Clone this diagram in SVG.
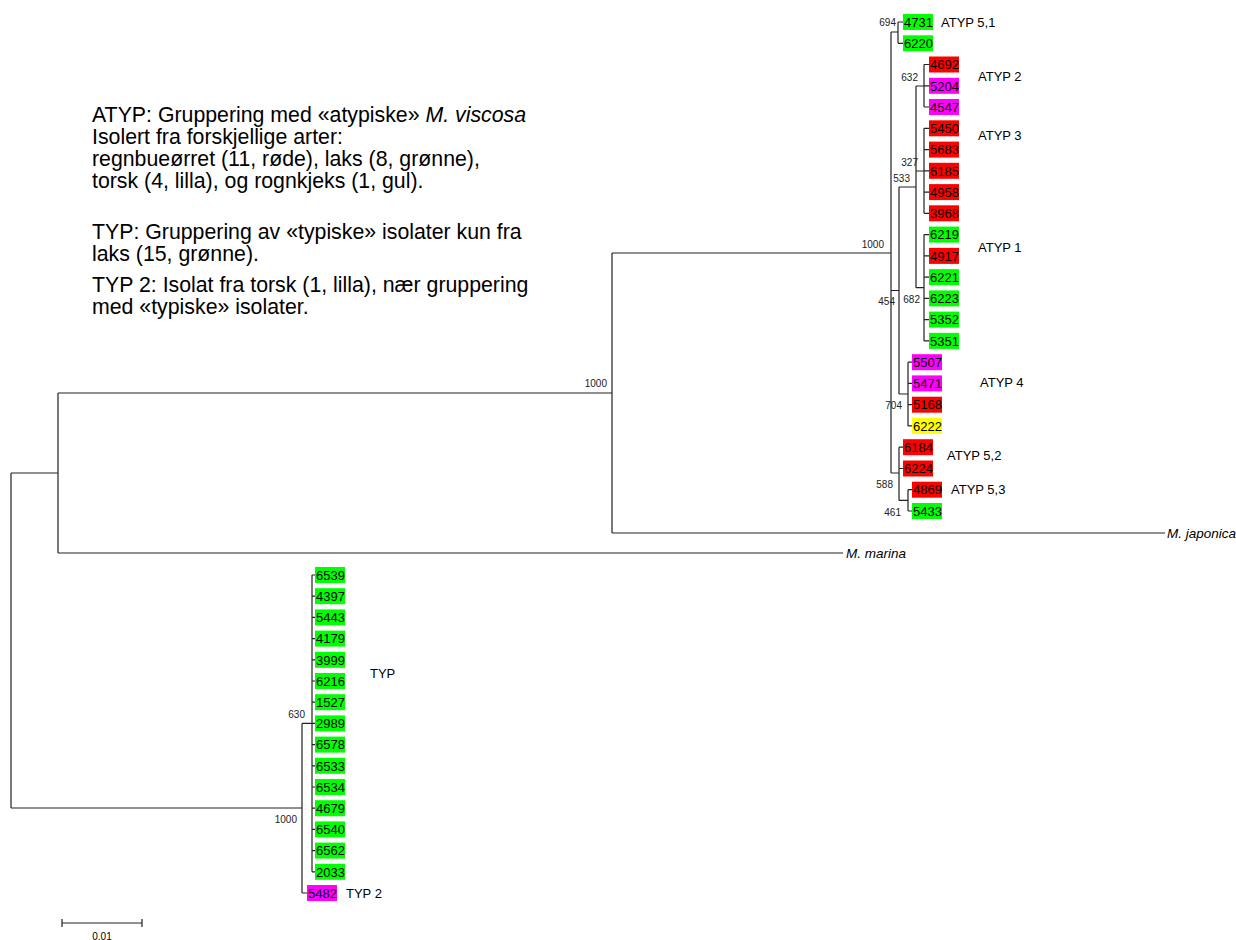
<svg xmlns="http://www.w3.org/2000/svg" width="1236" height="940" viewBox="0 0 1236 940">
<style>
.br{stroke:#222;stroke-width:1.2;fill:none}
text{font-family:"Liberation Sans",Arial,sans-serif;fill:#000}
.tip text{font-size:13px}
.bs{font-size:10px;fill:#222;text-anchor:end}
.lbl{font-size:13px}
.note{font-size:21.3px}
.sp{font-size:13.5px;font-style:italic}
.g{fill:#00ff00}.r{fill:#ff0000}.m{fill:#ff00ff}.y{fill:#ffff00}
</style>
<rect width="1236" height="940" fill="#fff"/>
<g id="connectors" class="br">
<path d="M11 473V808M11 473H58M11 808H302
M58 393V553M58 393H612M58 553H843
M612 253V533M612 253H891M612 533H1165
M891 32V473M891 32H898M898 22V43.3M898 22H903M898 43.3H903
M891 290.5H899M899 187V394M899 187H916M916 86V287.7
M916 86H924M924 64.5V107M924 64.5H929M924 85.8H929M924 107H929
M916 171H924M924 128.3V213.3M924 128.3H929M924 149.6H929M924 170.8H929M924 192.1H929M924 213.3H929
M916 287.7H924M924 234.6V340.9M924 234.6H929M924 255.9H929M924 277.1H929M924 298.4H929M924 319.6H929M924 340.9H929
M899 394H908M908 362.2V425.9M908 362.2H912M908 383.4H912M908 404.7H912M908 425.9H912
M891 473H899M899 447.2V500.4M899 447.2H903M899 468.5H903M899 500.4H908M908 489.7V511M908 489.7H912M908 511H912
M302 723.4V893M302 723.4H312M312 575V871.8M302 893H307
M312 575H315M312 596.2H315M312 617.4H315M312 638.6H315M312 659.8H315M312 681H315M312 702.2H315M312 723.4H315M312 744.6H315M312 765.8H315M312 787H315M312 808.2H315M312 829.4H315M312 850.6H315M312 871.8H315"/>
</g>
<g id="scalebar">
<path class="br" d="M62 923H142M62 919V927M142 919V927"/>
<text x="102" y="939.5" font-size="10" text-anchor="middle" fill="#222">0.01</text>
</g>
<g id="tips" class="tip">
<g id="t4731"><rect class="g" x="903" y="14" width="30" height="16"/><text x="904" y="26.7">4731</text></g>
<g id="t6220"><rect class="g" x="903" y="35.3" width="30" height="16"/><text x="904" y="48">6220</text></g>
<g id="t4692"><rect class="r" x="929" y="56.5" width="30" height="16"/><text x="930" y="69.2">4692</text></g>
<g id="t5204"><rect class="m" x="929" y="77.8" width="30" height="16"/><text x="930" y="90.5">5204</text></g>
<g id="t4547"><rect class="m" x="929" y="99" width="30" height="16"/><text x="930" y="111.7">4547</text></g>
<g id="t5450"><rect class="r" x="929" y="120.3" width="30" height="16"/><text x="930" y="133">5450</text></g>
<g id="t5683"><rect class="r" x="929" y="141.6" width="30" height="16"/><text x="930" y="154.3">5683</text></g>
<g id="t6185"><rect class="r" x="929" y="162.8" width="30" height="16"/><text x="930" y="175.5">6185</text></g>
<g id="t4958"><rect class="r" x="929" y="184.1" width="30" height="16"/><text x="930" y="196.8">4958</text></g>
<g id="t3968"><rect class="r" x="929" y="205.3" width="30" height="16"/><text x="930" y="218">3968</text></g>
<g id="t6219"><rect class="g" x="929" y="226.6" width="30" height="16"/><text x="930" y="239.3">6219</text></g>
<g id="t4917"><rect class="r" x="929" y="247.9" width="30" height="16"/><text x="930" y="260.6">4917</text></g>
<g id="t6221"><rect class="g" x="929" y="269.1" width="30" height="16"/><text x="930" y="281.8">6221</text></g>
<g id="t6223"><rect class="g" x="929" y="290.4" width="30" height="16"/><text x="930" y="303.1">6223</text></g>
<g id="t5352"><rect class="g" x="929" y="311.6" width="30" height="16"/><text x="930" y="324.3">5352</text></g>
<g id="t5351"><rect class="g" x="929" y="332.9" width="30" height="16"/><text x="930" y="345.6">5351</text></g>
<g id="t5507"><rect class="m" x="912" y="354.2" width="30" height="16"/><text x="913" y="366.9">5507</text></g>
<g id="t5471"><rect class="m" x="912" y="375.4" width="30" height="16"/><text x="913" y="388.1">5471</text></g>
<g id="t5168"><rect class="r" x="912" y="396.7" width="30" height="16"/><text x="913" y="409.4">5168</text></g>
<g id="t6222"><rect class="y" x="912" y="417.9" width="30" height="16"/><text x="913" y="430.6">6222</text></g>
<g id="t6184"><rect class="r" x="903" y="439.2" width="30" height="16"/><text x="904" y="451.9">6184</text></g>
<g id="t6224"><rect class="r" x="903" y="460.5" width="30" height="16"/><text x="904" y="473.2">6224</text></g>
<g id="t4869"><rect class="r" x="912" y="481.7" width="30" height="16"/><text x="913" y="494.4">4869</text></g>
<g id="t5433"><rect class="g" x="912" y="503" width="30" height="16"/><text x="913" y="515.7">5433</text></g>
<g id="t6539"><rect class="g" x="315" y="567" width="30" height="16"/><text x="316" y="579.7">6539</text></g>
<g id="t4397"><rect class="g" x="315" y="588.2" width="30" height="16"/><text x="316" y="600.9">4397</text></g>
<g id="t5443"><rect class="g" x="315" y="609.4" width="30" height="16"/><text x="316" y="622.1">5443</text></g>
<g id="t4179"><rect class="g" x="315" y="630.6" width="30" height="16"/><text x="316" y="643.3">4179</text></g>
<g id="t3999"><rect class="g" x="315" y="651.8" width="30" height="16"/><text x="316" y="664.5">3999</text></g>
<g id="t6216"><rect class="g" x="315" y="673" width="30" height="16"/><text x="316" y="685.7">6216</text></g>
<g id="t1527"><rect class="g" x="315" y="694.2" width="30" height="16"/><text x="316" y="706.9">1527</text></g>
<g id="t2989"><rect class="g" x="315" y="715.4" width="30" height="16"/><text x="316" y="728.1">2989</text></g>
<g id="t6578"><rect class="g" x="315" y="736.6" width="30" height="16"/><text x="316" y="749.3">6578</text></g>
<g id="t6533"><rect class="g" x="315" y="757.8" width="30" height="16"/><text x="316" y="770.5">6533</text></g>
<g id="t6534"><rect class="g" x="315" y="779" width="30" height="16"/><text x="316" y="791.7">6534</text></g>
<g id="t4679"><rect class="g" x="315" y="800.2" width="30" height="16"/><text x="316" y="812.9">4679</text></g>
<g id="t6540"><rect class="g" x="315" y="821.4" width="30" height="16"/><text x="316" y="834.1">6540</text></g>
<g id="t6562"><rect class="g" x="315" y="842.6" width="30" height="16"/><text x="316" y="855.3">6562</text></g>
<g id="t2033"><rect class="g" x="315" y="863.8" width="30" height="16"/><text x="316" y="876.5">2033</text></g>
<g id="t5482"><rect class="m" x="307" y="885" width="30" height="16"/><text x="308" y="897.7">5482</text></g>
</g>
<g id="outgroups">
<text class="sp" x="1167" y="538" font-size="13">M. japonica</text>
<text class="sp" x="846" y="558">M. marina</text>
</g>
<g id="bootstrap">
<text class="bs" x="896" y="25.5">694</text>
<text class="bs" x="918" y="80.5">632</text>
<text class="bs" x="918" y="165.5">327</text>
<text class="bs" x="910" y="181.5">533</text>
<text class="bs" x="884" y="247.5">1000</text>
<text class="bs" x="895" y="304.5">454</text>
<text class="bs" x="920" y="302.5">682</text>
<text class="bs" x="902" y="408.5">704</text>
<text class="bs" x="893" y="487.5">588</text>
<text class="bs" x="901" y="515.5">461</text>
<text class="bs" x="607" y="386.5">1000</text>
<text class="bs" x="305" y="717.5">630</text>
<text class="bs" x="297" y="822.5">1000</text>
</g>
<g id="clade-labels" class="lbl">
<text class="lbl" x="941" y="26.5">ATYP 5,1</text>
<text class="lbl" x="978" y="81">ATYP 2</text>
<text class="lbl" x="978" y="139.5">ATYP 3</text>
<text class="lbl" x="978" y="251.5">ATYP 1</text>
<text class="lbl" x="980" y="386.5">ATYP 4</text>
<text class="lbl" x="947" y="459.5">ATYP 5,2</text>
<text class="lbl" x="951" y="493.5">ATYP 5,3</text>
<text class="lbl" x="370" y="677.5">TYP</text>
<text class="lbl" x="346" y="897.5">TYP 2</text>
</g>
<g id="legend" class="note">
<text class="note" x="92" y="121.5">ATYP: Gruppering med «atypiske» <tspan font-style="italic">M. viscosa</tspan></text>
<text class="note" x="92" y="143.5">Isolert fra forskjellige arter:</text>
<text class="note" x="92" y="165.5">regnbueørret (11, røde), laks (8, grønne),</text>
<text class="note" x="92" y="187.5">torsk (4, lilla), og rognkjeks (1, gul).</text>
<text class="note" x="92" y="238.5">TYP: Gruppering av «typiske» isolater kun fra</text>
<text class="note" x="92" y="260.5">laks (15, grønne).</text>
<text class="note" x="92" y="291.5">TYP 2: Isolat fra torsk (1, lilla), nær gruppering</text>
<text class="note" x="92" y="313.5">med «typiske» isolater.</text>
</g>
</svg>
